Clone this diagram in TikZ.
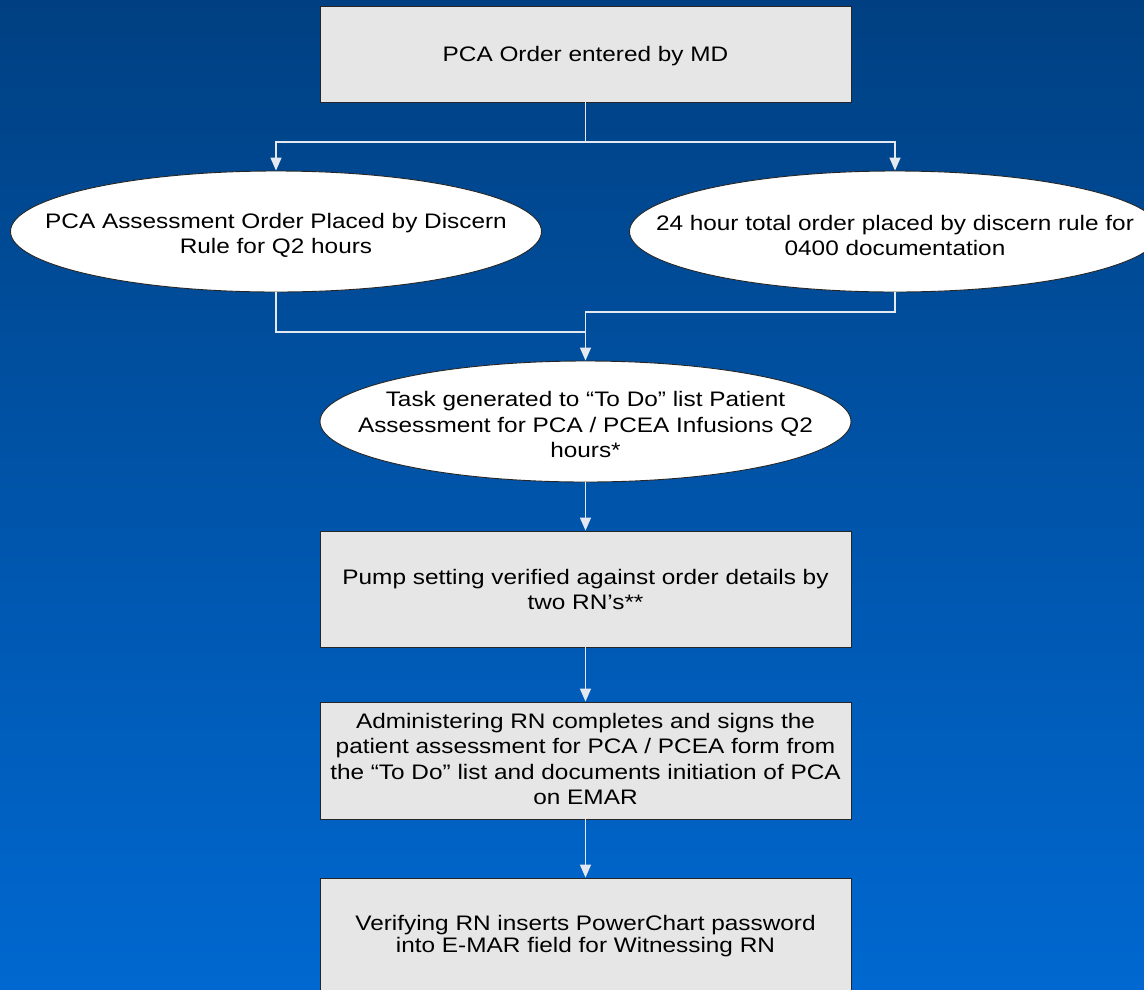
\documentclass[tikz,border=0pt]{standalone}
\usepackage{fontspec}
\setmainfont{Liberation Sans}
\usetikzlibrary{shapes.geometric,arrows.meta}

\definecolor{bgtop}{RGB}{0,64,130}
\definecolor{bgbot}{RGB}{0,104,208}
\definecolor{boxfill}{RGB}{230,230,230}
\definecolor{linkcol}{RGB}{228,232,240}

\tikzset{
  stepbox/.style={draw=black!85, line width=0.9pt, fill=boxfill, rectangle,
    minimum width=531pt, inner sep=0pt},
  oval/.style={draw=black!85, line width=0.9pt, fill=white, ellipse,
    minimum width=531pt, minimum height=121pt, inner sep=0pt},
  label/.style={align=center, font=\fontsize{21}{25}\selectfont, text=black,
    inner sep=0pt, xscale=1.16, transform shape},
  link/.style={draw=linkcol, line width=1.4pt},
  arrowlink/.style={link, -{Triangle[width=11pt,length=13pt]}}
}

\begin{document}
\begin{tikzpicture}[x=1pt, y=-1pt]
  % page and background gradient
  \useasboundingbox (0,0) rectangle (1144,989);
  \shade[top color=bgtop, bottom color=bgbot] (0,0) rectangle (1144,989);
  \clip (0,0) rectangle (1144,989);

  % boxes
  \node[stepbox, minimum height=96pt] (order) at (585.5,54) {};
  \node[label] at ([yshift=-2.5pt]order.center) {PCA Order entered by MD};

  \node[oval] (assess) at (276,231.5) {};
  \node[label] at ([yshift=-3.5pt]assess.center) {PCA Assessment Order Placed by Discern\\Rule for Q2 hours};

  \node[oval] (total) at (895,231.5) {};
  \node[label] at ([yshift=-3.5pt]total.center) {24 hour total order placed by discern rule for\\0400 documentation};

  \node[oval] (task) at (585.5,421.5) {};
  \node[label, font=\fontsize{21}{25.5}\selectfont] at ([yshift=-3pt]task.center) {Task generated to “To Do” list Patient\\Assessment for PCA / PCEA Infusions Q2\\hours*};

  \node[stepbox, minimum height=116pt] (pump) at (585.5,589) {};
  \node[label] at (pump.center) {Pump setting verified against order details by\\two RN’s**};

  \node[stepbox, minimum height=117pt] (admin) at (585.5,760.5) {};
  \node[label, font=\fontsize{21}{25.5}\selectfont] at ([yshift=1.5pt]admin.center) {Administering RN completes and signs the\\patient assessment for PCA / PCEA form from\\the “To Do” list and documents initiation of PCA\\on EMAR};

  \node[stepbox, minimum height=116pt] (verify) at (585.5,936) {};
  \node[label, font=\fontsize{21}{22}\selectfont] at (verify.center) {Verifying RN inserts PowerChart password\\into E-MAR field for Witnessing RN};

  % connectors
  \coordinate (split) at (585.5,142);
  \draw[link] (order.south) -- (split);
  \draw[arrowlink] (split) -| (assess.north);
  \draw[arrowlink] (split) -| (total.north);

  \coordinate (joinL) at (585.5,332);
  \coordinate (joinR) at (585.5,312);
  \draw[link] (assess.south) |- (joinL);
  \draw[arrowlink] (total.south) |- (joinR) -- (task.north);

  \draw[arrowlink] (task.south) -- (pump.north);
  \draw[arrowlink] (pump.south) -- (admin.north);
  \draw[arrowlink] (admin.south) -- (verify.north);
\end{tikzpicture}
\end{document}
